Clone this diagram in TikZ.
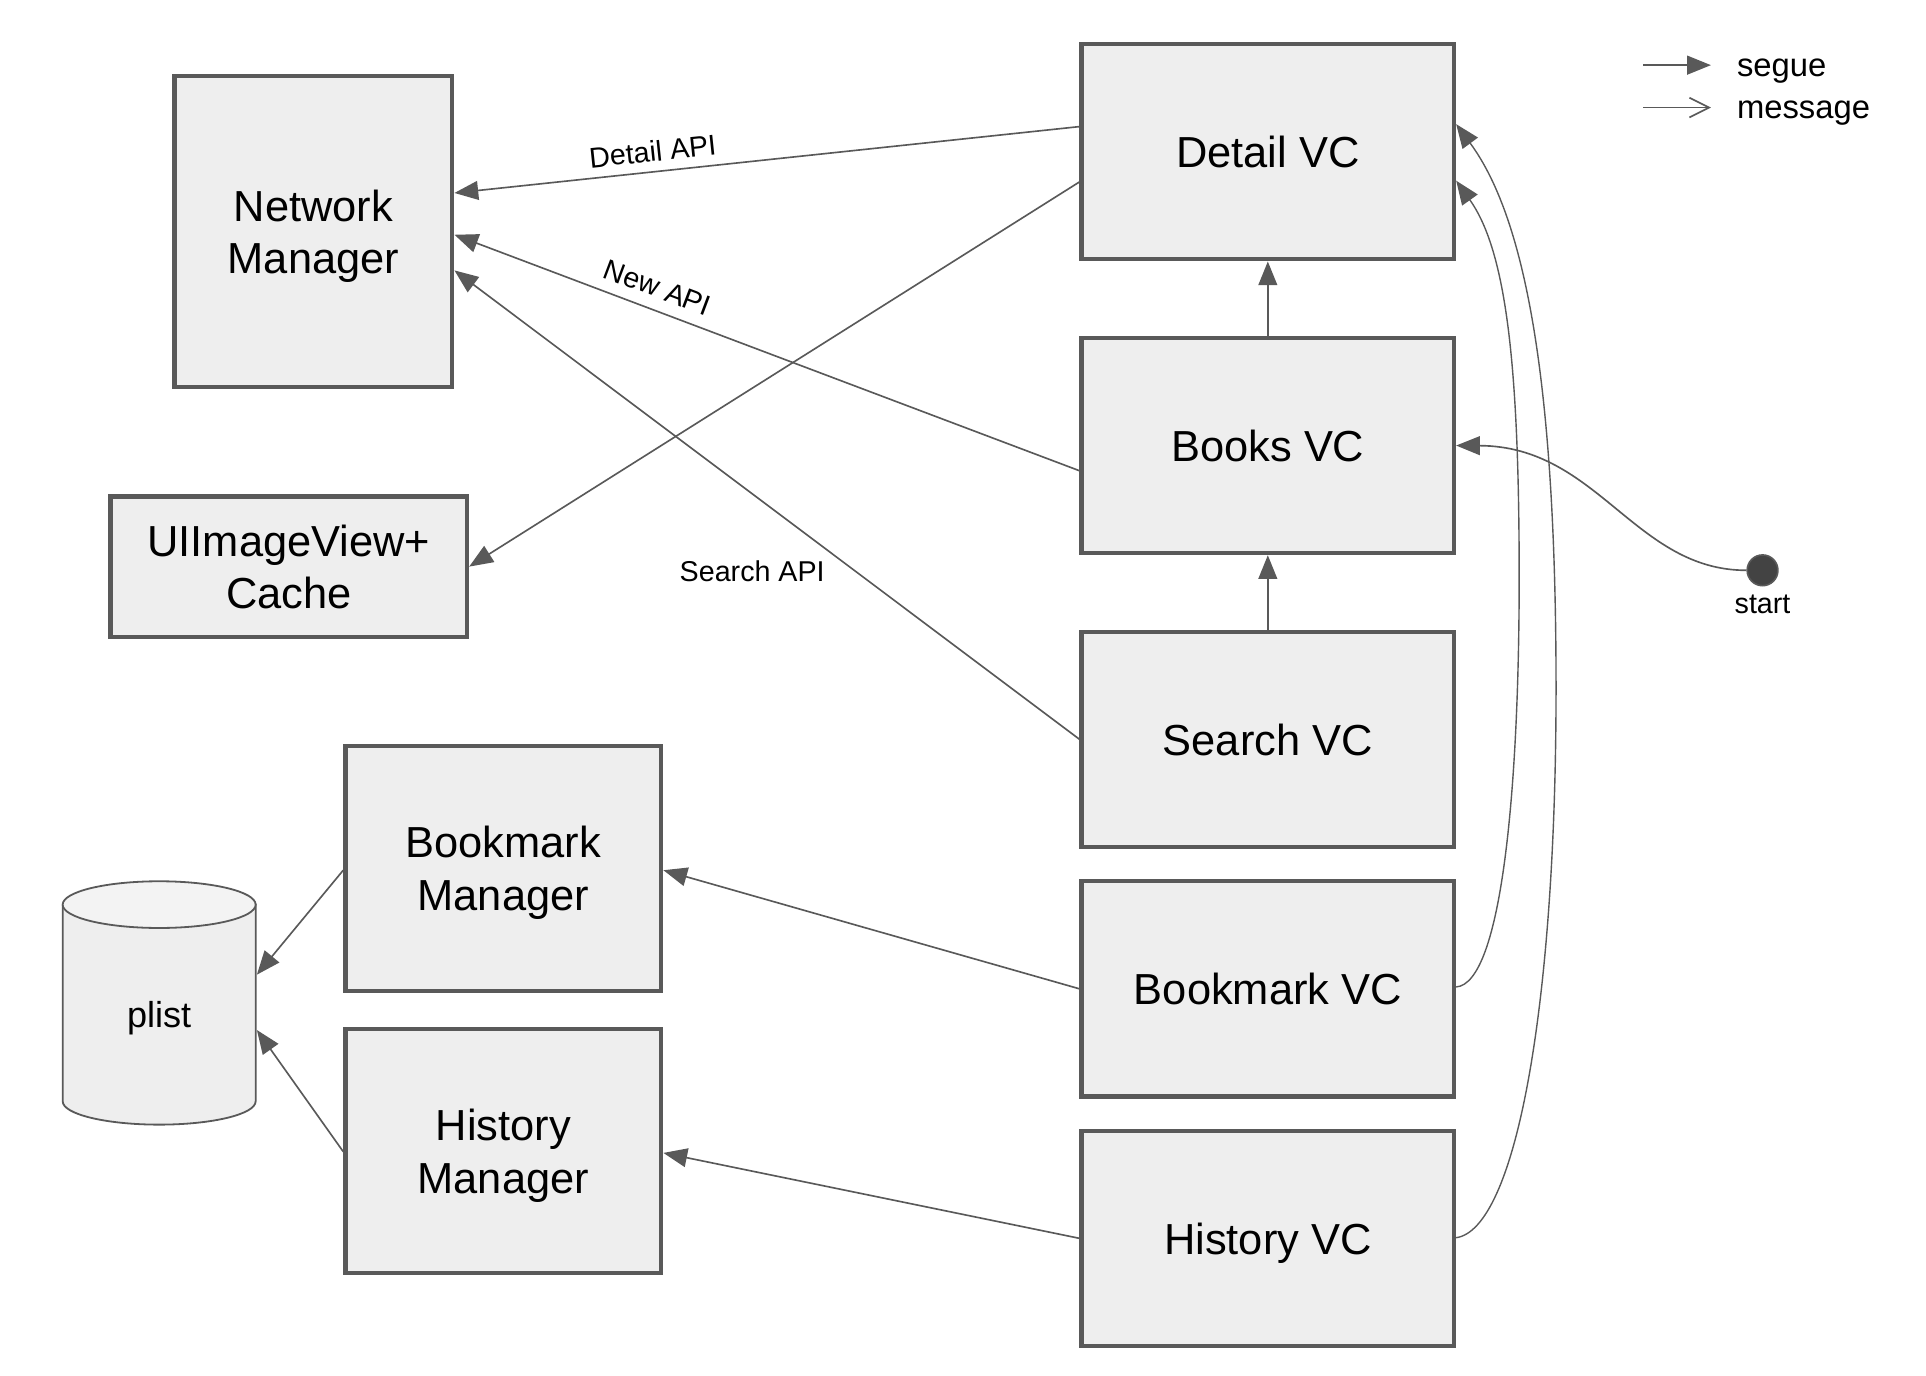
\documentclass[tikz,border=0pt]{standalone}
\usepackage{fontspec}
\setmainfont{Liberation Sans}
\usetikzlibrary{arrows.meta,calc}
\definecolor{edgec}{HTML}{595959}
\definecolor{boxfill}{HTML}{EEEEEE}
\definecolor{cyltop}{HTML}{F3F3F3}
\definecolor{dotfill}{HTML}{434343}
\begin{document}
\begin{tikzpicture}[x=0.75pt,y=-0.75pt,
  box/.style 2 args={draw=edgec, fill=boxfill, line width=2.6pt, align=center,
    minimum width=#1*0.75pt, minimum height=#2*0.75pt, inner sep=0pt, text depth=0pt,
    font=\fontsize{26.5}{32}\selectfont},
  conn/.style={draw=edgec, line width=1pt, -{Triangle[length=14.5pt,width=11.5pt]}},
  curvy/.style={draw=edgec, line width=0.85pt, -{Triangle[length=14.5pt,width=11.5pt]}},
  msg/.style={draw=edgec, line width=1pt, -{Straight Barb[length=12pt,width=12pt,line width=1pt]}},
  elabel/.style={font=\fontsize{17.5}{21}\selectfont, inner sep=0pt},
  legendtxt/.style={font=\fontsize{20}{24}\selectfont, inner sep=0pt, anchor=base west}
]
\useasboundingbox (0,0) rectangle (1567,1119.5);

% cylinder (plist)
\filldraw[draw=edgec, fill=boxfill, line width=1.1pt]
  (51,736) -- (51,896) arc[start angle=180, end angle=0, x radius=78.5, y radius=19] -- (208,736) -- cycle;
\filldraw[draw=edgec, fill=cyltop, line width=1.1pt] (129.5,736) ellipse [x radius=78.5, y radius=19];
\node[minimum width=157*0.75pt, minimum height=198*0.75pt, inner sep=0pt, outer sep=0pt,
      font=\fontsize{22}{26}\selectfont] (plist) at (129.5,828) {plist};
\coordinate (plistE) at (209,816);

% boxes
\node[box={226}{253}] (nm) at (255,188.5) {Network\\Manager};
\node[box={290}{114}] (ui) at (235,461) {UIImageView+\\Cache};
\node[box={257}{199}] (bm) at (409.5,706.5) {Bookmark\\Manager};
\node[box={257}{199}] (hm) at (409.5,936.5) {History\\Manager};
\node[box={303}{175}] (detail) at (1031.5,123.5) {Detail VC};
\node[box={303}{175}] (books) at (1031.5,362.5) {Books VC};
\node[box={303}{175}] (search) at (1031.5,601.5) {Search VC};
\node[box={303}{175}] (bvc) at (1031.5,804.5) {Bookmark VC};
\node[box={303}{175}] (hvc) at (1031.5,1007.5) {History VC};

% start dot
\node[circle, draw=edgec, fill=dotfill, line width=1pt, minimum size=25*0.75pt, inner sep=0pt] (start) at (1434,464) {};
\node[elabel, anchor=north] (startlbl) at (1434,484) {start};

% legend
\coordinate (sg1) at (1337,53);
\coordinate (sg2) at (1392,53);
\coordinate (ms1) at (1337,87.5);
\coordinate (ms2) at (1392,87.5);
\draw[conn] (sg1) -- (sg2);
\draw[msg] (ms1) -- (ms2);
\node[legendtxt] (lsegue) at (1413,62.5) {segue};
\node[legendtxt] (lmsg) at (1413,96.5) {message};

% straight connectors
\draw[conn] ($(detail.west)+(0,-20.5)$) -- ($(nm.east)+(0,-31.5)$);
\draw[conn] ($(detail.west)+(0,24.5)$) -- (ui.east);
\draw[conn] ($(books.west)+(0,20.5)$) -- ($(nm.east)+(0,2.5)$);
\draw[conn] (search.west) -- ($(nm.east)+(0,31.5)$);
\draw[conn] (books.north) -- (detail.south);
\draw[conn] (search.north) -- (books.south);
\draw[conn] (bvc.west) -- ($(bm.east)+(0,1.5)$);
\draw[conn] (hvc.west) -- ($(hm.east)+(0,1.5)$);
\draw[conn] ($(bm.west)+(0,1.5)$) -- ($(plistE)+(0,-23)$);
\draw[conn] ($(hm.west)+(0,0.5)$) -- ($(plistE)+(0,22)$);

% labels
\node[elabel, rotate=6] (ldetail) at (531,123) {Detail API};
\node[elabel, rotate=-20.6] (lnew) at (535,234) {New API};
\node[elabel] (lsearch) at (612,465) {Search API};

% curves
\draw[curvy] ($(hvc.east)+(0,-0.5)$) .. controls (1233,1000) and (1266,820) .. (1266,560)
   .. controls (1266,320) and (1243,180) .. ($(detail.east)+(0,-22.5)$);
\draw[curvy] ($(bvc.east)+(0,-1.5)$) .. controls (1222,800) and (1236,640) .. (1236,470)
   .. controls (1236,300) and (1226,205) .. ($(detail.east)+(0,23.5)$);
\draw[curvy, line width=1pt] (start.west) .. controls (1330,464) and (1300,363) .. (books.east);
\end{tikzpicture}
\end{document}
